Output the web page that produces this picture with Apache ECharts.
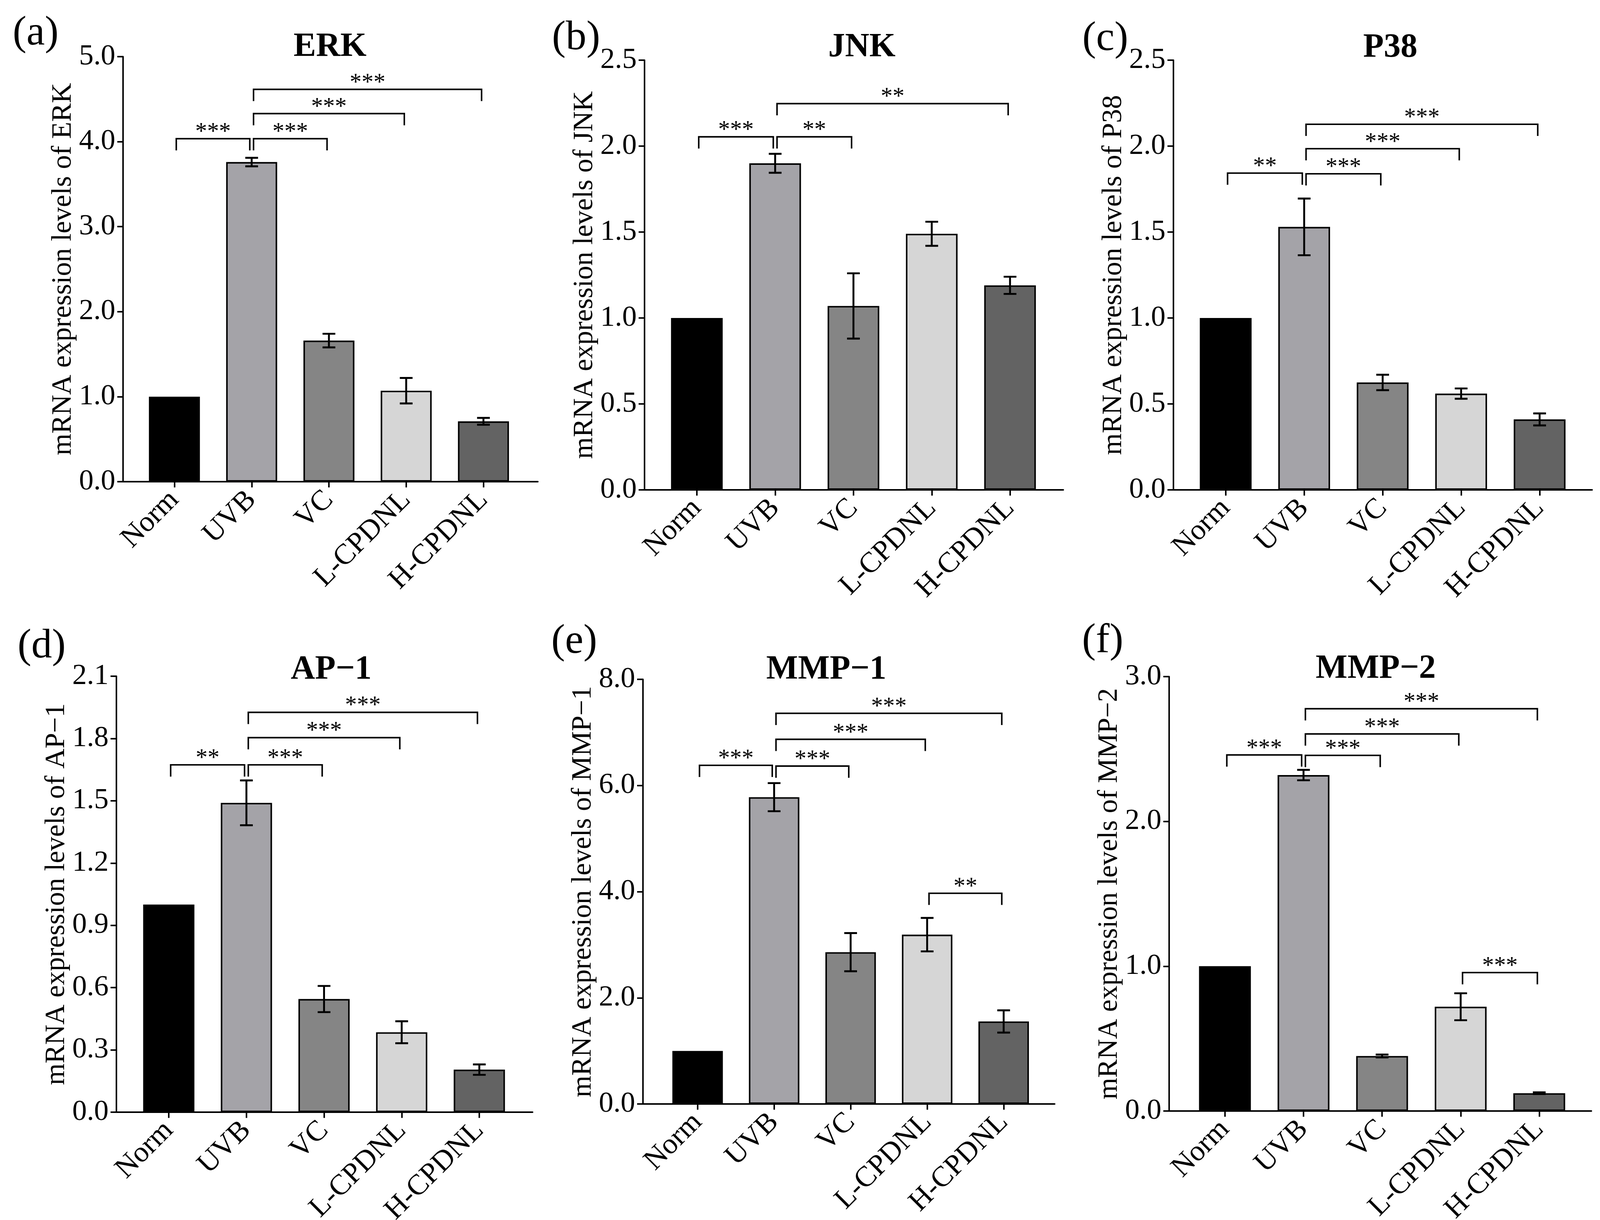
<!DOCTYPE html>
<html style="height: 100%">

<head>
    <meta charset="utf-8">
    <script src="https://cdn.jsdelivr.net/npm/echarts@6/dist/echarts.min.js"></script>
</head>

<body style="height: 100%; margin: 0; overflow: hidden">
    <div id="container" style="width: 100%; height: 100%"></div>
    <script>
        // groups on the x axis
        var groups = ['Norm', 'UVB', 'VC', 'L-CPDNL', 'H-CPDNL'];
        var barColors = ['#000000', '#a4a3a8', '#858585', '#d6d6d6', '#636363'];

        // one entry per panel
        var tags = ['(a)', '(b)', '(c)', '(d)', '(e)', '(f)'];
        var genes = ['ERK', 'JNK', 'P38', 'AP\u22121', 'MMP\u22121', 'MMP\u22122'];
        var yMax = [5.0, 2.5, 2.5, 2.1, 8.0, 3.0];
        var yStep = [1.0, 0.5, 0.5, 0.3, 2.0, 1.0];

        // mean and error of each group
        var erkMean = [1.0, 3.76, 1.66, 1.07, 0.71];
        var erkErr = [0, 0.05, 0.08, 0.15, 0.04];
        var jnkMean = [1.0, 1.90, 1.07, 1.49, 1.19];
        var jnkErr = [0, 0.055, 0.19, 0.07, 0.05];
        var p38Mean = [1.0, 1.53, 0.625, 0.56, 0.41];
        var p38Err = [0, 0.165, 0.045, 0.03, 0.035];
        var ap1Mean = [1.0, 1.49, 0.545, 0.385, 0.205];
        var ap1Err = [0, 0.108, 0.063, 0.053, 0.025];
        var mmp1Mean = [1.0, 5.78, 2.86, 3.19, 1.555];
        var mmp1Err = [0, 0.265, 0.36, 0.315, 0.21];
        var mmp2Mean = [1.0, 2.32, 0.38, 0.72, 0.123];
        var mmp2Err = [0, 0.036, 0.01, 0.093, 0.006];

        // significance: [from group, to group, bracket height, stars]
        var erkSig = [[0, 1, 4.035, '***'], [1, 2, 4.035, '***'], [1, 3, 4.33, '***'], [1, 4, 4.615, '***']];
        var jnkSig = [[0, 1, 2.054, '***'], [1, 2, 2.054, '**'], [1, 4, 2.247, '**']];
        var p38Sig = [[0, 1, 1.843, '**'], [1, 2, 1.839, '***'], [1, 3, 1.985, '***'], [1, 4, 2.127, '***']];
        var ap1Sig = [[0, 1, 1.673, '**'], [1, 2, 1.673, '***'], [1, 3, 1.804, '***'], [1, 4, 1.926, '***']];
        var mmp1Sig = [[0, 1, 6.38, '***'], [1, 2, 6.366, '***'], [1, 3, 6.87, '***'], [1, 4, 7.36, '***'], [3, 4, 3.97, '**']];
        var mmp2Sig = [[0, 1, 2.459, '***'], [1, 2, 2.456, '***'], [1, 3, 2.604, '***'], [1, 4, 2.778, '***'], [3, 4, 0.956, '***']];

        var means = [erkMean, jnkMean, p38Mean, ap1Mean, mmp1Mean, mmp2Mean];
        var errs = [erkErr, jnkErr, p38Err, ap1Err, mmp1Err, mmp2Err];
        var sigs = [erkSig, jnkSig, p38Sig, ap1Sig, mmp1Sig, mmp2Sig];

        // page layout on a 4266 x 3123 sheet: axis frame, first category centre,
        // category spacing, title centre, tag centre
        var layout = [
            { left: 328, top: 145, right: 1434, bottom: 1233, first: 465, step: 206, titleX: 880, titleY: 121, tagX: 95, tagY: 86 },
            { left: 1718, top: 154, right: 2835, bottom: 1254, first: 1858, step: 208.75, titleX: 2298, titleY: 122, tagX: 1536, tagY: 98 },
            { left: 3128, top: 154, right: 4245, bottom: 1254, first: 3268, step: 209.25, titleX: 3707, titleY: 123, tagX: 2947, tagY: 100 },
            { left: 310, top: 1731, right: 1420, bottom: 2847, first: 450, step: 207, titleX: 883, titleY: 1715, tagX: 111, tagY: 1655 },
            { left: 1714, top: 1739, right: 2812, bottom: 2826, first: 1860, step: 204, titleX: 2203, titleY: 1715, tagX: 1531, tagY: 1643 },
            { left: 3117, top: 1732, right: 4243, bottom: 2844, first: 3266, step: 209.5, titleX: 3668, titleY: 1713, tagX: 2940, tagY: 1641 }
        ];

        var serif = '"Liberation Serif", "Times New Roman", serif';
        var dom = document.getElementById("container");
        var myChart = echarts.init(dom);

        // the window may be narrower than the sheet, so scale to the real size
        var sx = myChart.getWidth() / 4266;
        var sy = myChart.getHeight() / 3123;
        var sf = (sx + sy) / 2;
        function X(v) { return v * sx; }
        function Y(v) { return v * sy; }
        function F(v) { return Math.round(v * sf * 10) / 10; }

        var grids = [], xAxes = [], yAxes = [], series = [], titles = [];

        genes.forEach(function (gene, p) {
            var L = layout[p];
            var h = Y(L.bottom - L.top);
            // grid 2p: the axis frame, grid 2p+1: the category bands
            grids.push({ left: X(L.left), top: Y(L.top), width: X(L.right - L.left), height: h, outerBoundsMode: 'none', containLabel: false });
            grids.push({ left: X(L.first - L.step / 2), top: Y(L.top), width: X(L.step * 5), height: h, outerBoundsMode: 'none', containLabel: false });

            xAxes.push({
                gridIndex: 2 * p, type: 'value', min: 0, max: 1,
                axisLine: { show: true, lineStyle: { color: '#000', width: F(4) } },
                axisTick: { show: false }, axisLabel: { show: false }, splitLine: { show: false }
            });
            xAxes.push({
                gridIndex: 2 * p + 1, type: 'category', data: groups,
                axisLine: { show: false },
                axisTick: { show: true, alignWithLabel: true, length: F(15), lineStyle: { color: '#000', width: F(4) } },
                axisLabel: { interval: 0, rotate: 45, margin: F(36), color: '#000', fontSize: F(76), fontFamily: serif }
            });
            yAxes.push({
                gridIndex: 2 * p, type: 'value', min: 0, max: yMax[p], interval: yStep[p],
                name: 'mRNA expression levels of ' + gene, nameLocation: 'middle', nameGap: F(100),
                nameTextStyle: { color: '#000', fontSize: F(73), fontFamily: serif },
                axisLine: { show: true, lineStyle: { color: '#000', width: F(4) } },
                axisTick: { show: true, length: F(15), lineStyle: { color: '#000', width: F(4) } },
                axisLabel: {
                    margin: F(20), color: '#000', fontSize: F(76), fontFamily: serif,
                    formatter: function (v) { return v.toFixed(1); }
                },
                splitLine: { show: false }
            });
            yAxes.push({ gridIndex: 2 * p + 1, type: 'value', min: 0, max: yMax[p], show: false });

            titles.push({
                text: gene, left: X(L.titleX), top: Y(L.titleY) - F(44), textAlign: 'center', padding: 0,
                textStyle: { color: '#000', fontSize: F(88), fontWeight: 'bold', fontFamily: serif }
            });
            titles.push({
                text: tags[p], left: X(L.tagX), top: Y(L.tagY) - F(54), textAlign: 'center', padding: 0,
                textStyle: { color: '#000', fontSize: F(108), fontWeight: 'normal', fontFamily: serif }
            });

            series.push({
                type: 'bar', xAxisIndex: 2 * p + 1, yAxisIndex: 2 * p + 1, barWidth: '66%',
                data: means[p].map(function (v, i) {
                    return { value: v, itemStyle: { color: barColors[i], borderColor: '#000', borderWidth: F(4) } };
                })
            });

            var errData = [];
            means[p].forEach(function (v, i) {
                if (errs[p][i] > 0) errData.push([i, v - errs[p][i], v + errs[p][i]]);
            });
            series.push({
                type: 'custom', xAxisIndex: 2 * p + 1, yAxisIndex: 2 * p + 1,
                data: errData, encode: { x: 0, y: [1, 2] }, z: 5,
                renderItem: function (params, api) {
                    var top = api.coord([api.value(0), api.value(2)]);
                    var bot = api.coord([api.value(0), api.value(1)]);
                    var cap = X(17);
                    var st = { stroke: '#000', lineWidth: F(5) };
                    return {
                        type: 'group', children: [
                            { type: 'line', shape: { x1: top[0], y1: top[1], x2: bot[0], y2: bot[1] }, style: st },
                            { type: 'line', shape: { x1: top[0] - cap, y1: top[1], x2: top[0] + cap, y2: top[1] }, style: st },
                            { type: 'line', shape: { x1: bot[0] - cap, y1: bot[1], x2: bot[0] + cap, y2: bot[1] }, style: st }
                        ]
                    };
                }
            });

            var sig = sigs[p];
            series.push({
                type: 'custom', xAxisIndex: 2 * p + 1, yAxisIndex: 2 * p + 1,
                data: sig.map(function (s) { return [s[0], s[1], s[2]]; }),
                encode: { x: [0, 1], y: 2 }, z: 6,
                renderItem: function (params, api) {
                    var a = api.coord([api.value(0), api.value(2)]);
                    var b = api.coord([api.value(1), api.value(2)]);
                    var x1 = a[0] + X(5), x2 = b[0] - X(5), y = a[1], leg = Y(30);
                    return {
                        type: 'group', children: [
                            { type: 'polyline', shape: { points: [[x1, y + leg], [x1, y], [x2, y], [x2, y + leg]] }, style: { stroke: '#000', lineWidth: F(4), fill: null } },
                            {
                                type: 'text', x: (x1 + x2) / 2, y: y - Y(16),
                                style: { text: sig[params.dataIndex][3], fill: '#000', fontSize: F(62), fontFamily: serif, align: 'center', verticalAlign: 'middle' }
                            }
                        ]
                    };
                }
            });
        });

        var option = {
            backgroundColor: '#fff',
            animation: false,
            title: titles,
            grid: grids,
            xAxis: xAxes,
            yAxis: yAxes,
            series: series
        };
        myChart.setOption(option);
    </script>
</body>

</html>
